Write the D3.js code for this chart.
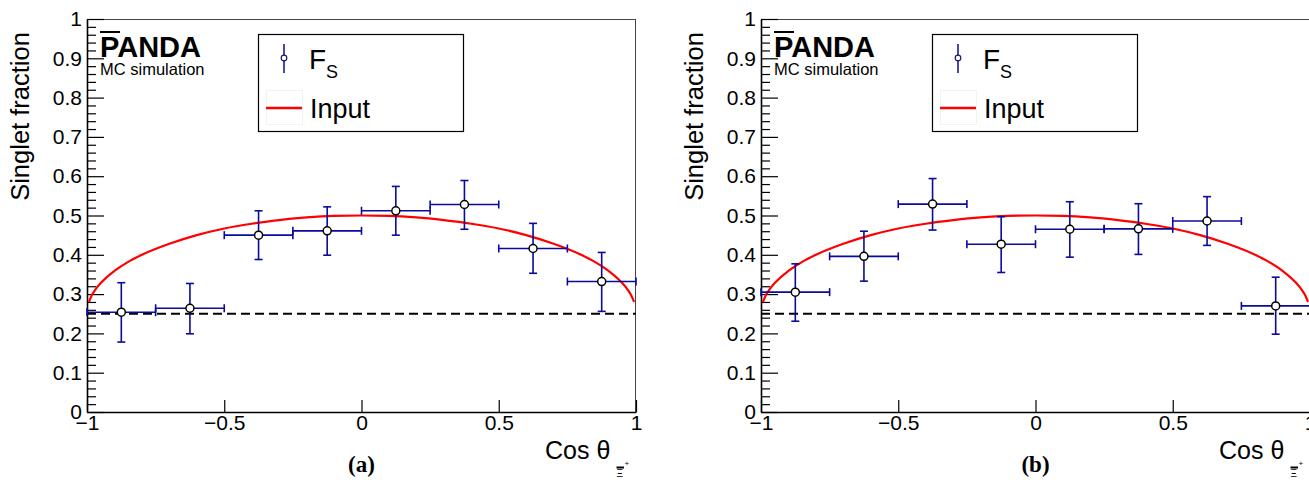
<!DOCTYPE html>
<html><head><meta charset="utf-8">
<script src="https://cdn.jsdelivr.net/npm/d3@7"></script>
<style>
html,body{margin:0;padding:0;background:#fff;}
svg{display:block;font-family:"Liberation Sans",Arial,sans-serif;}
</style></head>
<body>
<svg id="chart" width="1309" height="480"></svg>
<script>
// ---- data ----
const binEdges = [-1, -0.75, -0.5, -0.25, 0, 0.25, 0.5, 0.75, 1];
const binCenters = [-0.875, -0.625, -0.375, -0.125, 0.125, 0.375, 0.625, 0.875];

const fsA     = [0.254, 0.264, 0.450, 0.461, 0.512, 0.528, 0.416, 0.332];
const fsAHigh = [0.329, 0.327, 0.512, 0.522, 0.574, 0.589, 0.480, 0.406];
const fsALow  = [0.178, 0.199, 0.388, 0.399, 0.450, 0.465, 0.353, 0.256];

const fsB     = [0.305, 0.396, 0.529, 0.427, 0.465, 0.466, 0.486, 0.270];
const fsBHigh = [0.377, 0.460, 0.594, 0.497, 0.535, 0.530, 0.548, 0.343];
const fsBLow  = [0.231, 0.333, 0.463, 0.355, 0.394, 0.401, 0.424, 0.198];

// "Input" curve
const inputX = [-0.993, -0.98, -0.97, -0.95, -0.9, -0.85, -0.8, -0.7, -0.6, -0.5, -0.4, -0.3, -0.2, -0.1, 0,
                 0.1, 0.2, 0.3, 0.4, 0.5, 0.6, 0.7, 0.8, 0.85, 0.9, 0.95, 0.97, 0.98, 0.993];
const inputY = [0.280, 0.300, 0.311, 0.328, 0.359, 0.382, 0.400, 0.428, 0.450, 0.467, 0.479, 0.488, 0.495, 0.499, 0.500,
                 0.499, 0.495, 0.488, 0.479, 0.467, 0.450, 0.428, 0.400, 0.382, 0.359, 0.328, 0.311, 0.300, 0.280];

const flatLevel = 0.25;

const yTickValues = [0, 0.1, 0.2, 0.3, 0.4, 0.5, 0.6, 0.7, 0.8, 0.9, 1];
const yTickLabels = ["0", "0.1", "0.2", "0.3", "0.4", "0.5", "0.6", "0.7", "0.8", "0.9", "1"];
const xTickValues = [-1, -0.5, 0, 0.5, 1];
const xTickLabels = ["\u22121", "\u22120.5", "0", "0.5", "1"];

const panelLabels = ["(a)", "(b)"];

// ---- drawing ----
const svg = d3.select("#chart");
const errColor = "#0a0a9c";
const FONT = "'Liberation Sans', Arial, sans-serif";

function drawPanel(dx, vals, highs, lows, label) {
  const g = svg.append("g").attr("transform", `translate(${dx},0)`);
  const x = d3.scaleLinear().domain([-1, 1]).range([87, 636]);
  const y = d3.scaleLinear().domain([0, 1]).range([412, 19]);

  // frame top / right
  g.append("line").attr("x1", x(-1)).attr("x2", x(1)).attr("y1", y(1) + 0.5).attr("y2", y(1) + 0.5)
    .attr("stroke", "#444").attr("stroke-width", 1);
  g.append("line").attr("x1", x(1) - 0.5).attr("x2", x(1) - 0.5).attr("y1", y(1)).attr("y2", y(0))
    .attr("stroke", "#444").attr("stroke-width", 1);

  // y minor ticks
  const minors = d3.range(0, 50).map(i => i * 0.02).filter(v => Math.abs(v * 10 - Math.round(v * 10)) > 1e-6);
  g.append("g").attr("transform", `translate(${x(-1)},0)`)
    .call(d3.axisLeft(y).tickValues(minors).tickSize(-9).tickSizeOuter(0).tickFormat(""))
    .call(s => s.select(".domain").remove())
    .selectAll("line").attr("stroke", "#000").attr("stroke-width", 1.2);

  // y major axis
  const ya = g.append("g").attr("transform", `translate(${x(-1)},0)`)
    .call(d3.axisLeft(y).tickValues(yTickValues).tickSize(-17).tickSizeOuter(0).tickPadding(5)
      .tickFormat((d, i) => yTickLabels[i]));
  ya.select(".domain").attr("stroke", "#000").attr("stroke-width", 1.6);
  ya.selectAll("line").attr("stroke", "#000").attr("stroke-width", 1.2);
  ya.selectAll("text").attr("font-size", 21).attr("font-family", FONT).attr("fill", "#000");

  // x axis
  const xa = g.append("g").attr("transform", `translate(0,${y(0)})`)
    .call(d3.axisBottom(x).tickValues(xTickValues).tickSize(-12).tickSizeOuter(0).tickPadding(3)
      .tickFormat((d, i) => xTickLabels[i]));
  xa.select(".domain").attr("stroke", "#000").attr("stroke-width", 1.6);
  xa.selectAll("line").attr("stroke", "#000").attr("stroke-width", 1.2);
  xa.selectAll("text").attr("font-size", 21).attr("font-family", FONT).attr("fill", "#000");

  // y title
  g.append("text").attr("transform", `translate(29,${y(0.752)}) rotate(-90)`)
    .attr("text-anchor", "middle").attr("font-size", 25.5).attr("fill", "#000").text("Singlet fraction");

  // x title
  g.append("text").attr("x", 545).attr("y", 459).attr("font-size", 25).attr("fill", "#000").text("Cos \u03b8");
  g.append("line").attr("x1", 616.5).attr("x2", 624).attr("y1", 467.5).attr("y2", 467.5)
    .attr("stroke", "#000").attr("stroke-width", 2);
  g.append("text").attr("x", 616.5).attr("y", 476.5).attr("font-size", 10).attr("fill", "#000").text("\u039e");
  g.append("text").attr("x", 624.5).attr("y", 466).attr("font-size", 8).attr("fill", "#000").text("+");

  // panel label
  g.append("text").attr("x", x(0)).attr("y", 472).attr("text-anchor", "middle")
    .attr("font-family", "'Liberation Serif', 'Times New Roman', serif").attr("font-weight", "bold")
    .attr("font-size", 23).attr("fill", "#000").text(label);

  // dashed line
  g.append("line").attr("x1", x(-1)).attr("x2", x(1)).attr("y1", y(flatLevel)).attr("y2", y(flatLevel))
    .attr("stroke", "#000").attr("stroke-width", 2.2).attr("stroke-dasharray", "9,5");

  // input curve
  const line = d3.line().x(d => x(d[0])).y(d => y(d[1])).curve(d3.curveMonotoneX);
  g.append("path").datum(inputX.map((v, i) => [v, inputY[i]]))
    .attr("d", line).attr("fill", "none").attr("stroke", "#ff0000").attr("stroke-width", 2.2);

  // error bars
  const cap = 4;
  const pts = binCenters.map((c, i) => ({c, lo: binEdges[i], hi: binEdges[i + 1], v: vals[i], up: highs[i], dn: lows[i]}));
  const eb = g.append("g").attr("stroke", errColor).attr("stroke-width", 1.6).attr("fill", "none");
  pts.forEach(p => {
    eb.append("line").attr("x1", x(p.lo)).attr("x2", x(p.hi)).attr("y1", y(p.v)).attr("y2", y(p.v));
    eb.append("line").attr("x1", x(p.lo)).attr("x2", x(p.lo)).attr("y1", y(p.v) - cap).attr("y2", y(p.v) + cap);
    eb.append("line").attr("x1", x(p.hi)).attr("x2", x(p.hi)).attr("y1", y(p.v) - cap).attr("y2", y(p.v) + cap);
    eb.append("line").attr("x1", x(p.c)).attr("x2", x(p.c)).attr("y1", y(p.up)).attr("y2", y(p.dn));
    eb.append("line").attr("x1", x(p.c) - cap).attr("x2", x(p.c) + cap).attr("y1", y(p.up)).attr("y2", y(p.up));
    eb.append("line").attr("x1", x(p.c) - cap).attr("x2", x(p.c) + cap).attr("y1", y(p.dn)).attr("y2", y(p.dn));
  });
  g.append("g").selectAll("circle").data(pts).join("circle")
    .attr("cx", p => x(p.c)).attr("cy", p => y(p.v)).attr("r", 4)
    .attr("fill", "#fff").attr("stroke", "#000").attr("stroke-width", 1.5);

  // PANDA logo
  g.append("text").attr("x", 100).attr("y", 57).attr("font-size", 29).attr("font-weight", "bold")
    .attr("fill", "#000").text("PANDA");
  g.append("line").attr("x1", 100).attr("x2", 120).attr("y1", 32).attr("y2", 32)
    .attr("stroke", "#000").attr("stroke-width", 2);
  g.append("text").attr("x", 100).attr("y", 75).attr("font-size", 16.5).attr("fill", "#000").text("MC simulation");

  // legend
  const lg = g.append("g");
  lg.append("rect").attr("x", 258.5).attr("y", 34.5).attr("width", 205).attr("height", 97)
    .attr("fill", "#fff").attr("stroke", "#000").attr("stroke-width", 1.2);
  lg.append("line").attr("x1", 284).attr("x2", 284).attr("y1", 44).attr("y2", 73)
    .attr("stroke", errColor).attr("stroke-width", 1.5);
  lg.append("circle").attr("cx", 284).attr("cy", 58).attr("r", 2.8)
    .attr("fill", "#fff").attr("stroke", "#1a1a6a").attr("stroke-width", 1.2);
  lg.append("text").attr("x", 309).attr("y", 69).attr("font-size", 28).attr("fill", "#000").text("F");
  lg.append("text").attr("x", 326).attr("y", 78).attr("font-size", 18).attr("fill", "#000").text("S");
  lg.append("rect").attr("x", 266.5).attr("y", 90.5).attr("width", 36).attr("height", 34)
    .attr("fill", "none").attr("stroke", "#f2f2f2").attr("stroke-width", 1);
  lg.append("line").attr("x1", 266).attr("x2", 302).attr("y1", 108).attr("y2", 108)
    .attr("stroke", "#ff0000").attr("stroke-width", 2.5);
  lg.append("text").attr("x", 310).attr("y", 118).attr("font-size", 27).attr("fill", "#000").text("Input");
}

drawPanel(0, fsA, fsAHigh, fsALow, panelLabels[0]);
drawPanel(674, fsB, fsBHigh, fsBLow, panelLabels[1]);
</script>
</body></html>
